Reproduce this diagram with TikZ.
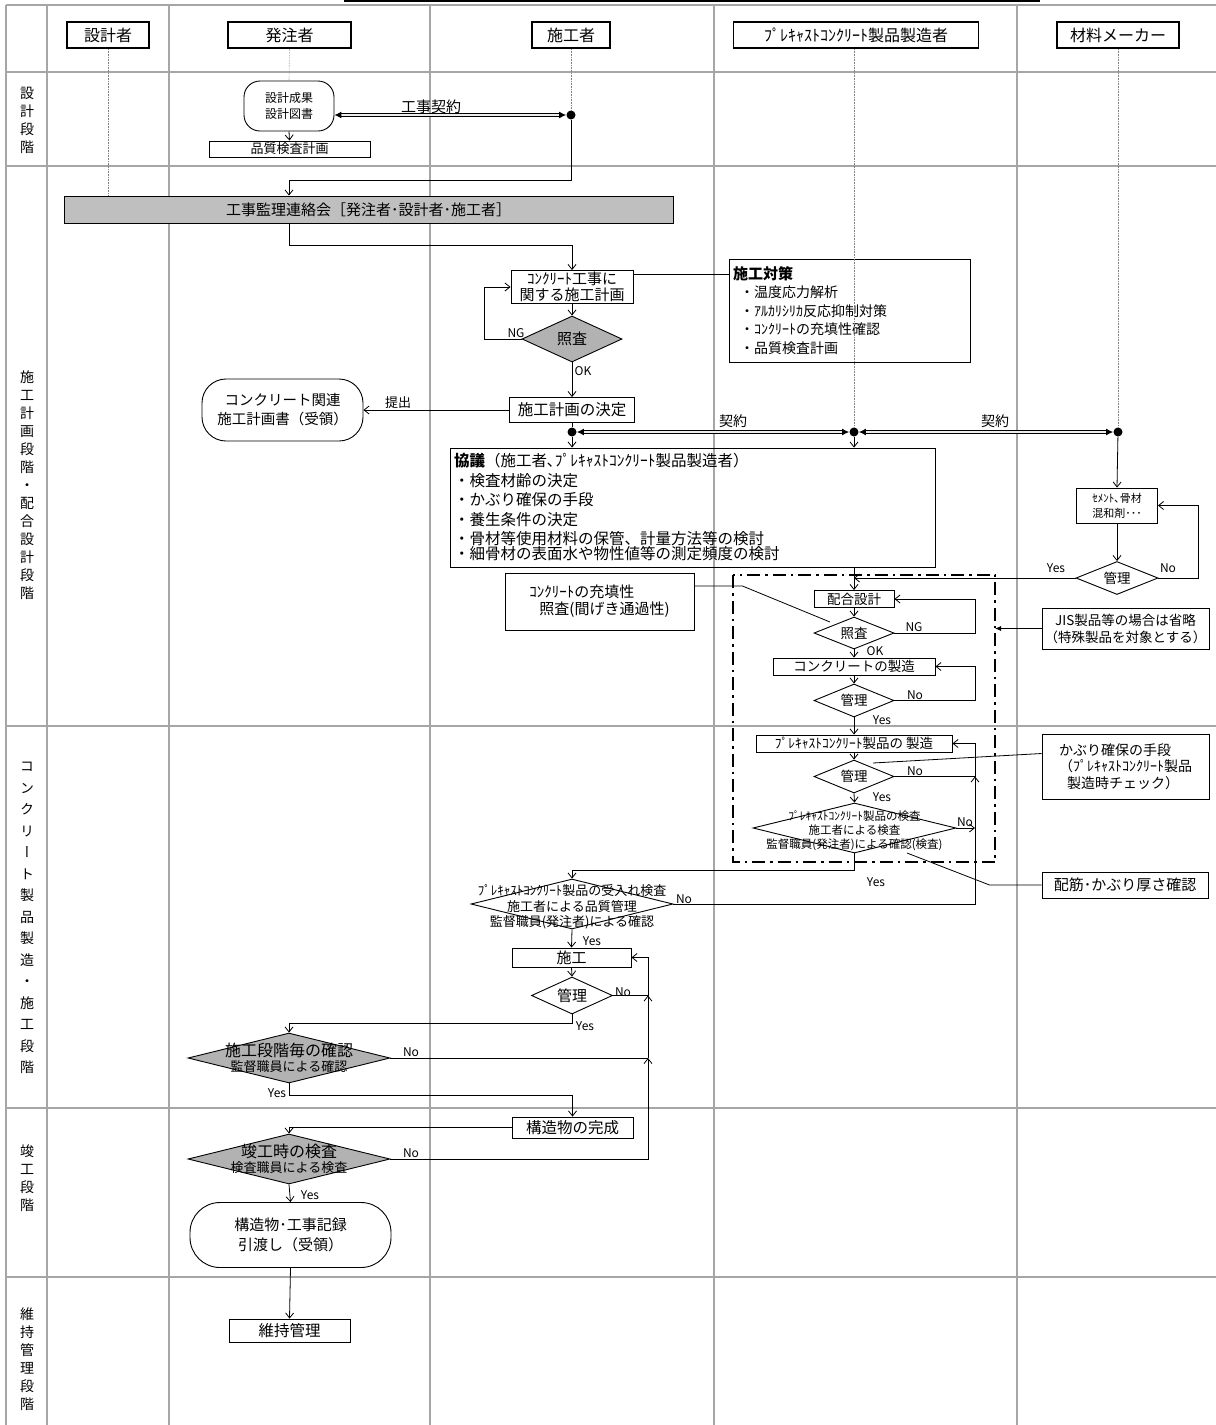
\documentclass[tikz,border=0pt]{standalone}
\usepackage{fontspec}
\setmainfont{Noto Sans CJK JP}
\newfontfamily\vjp{Noto Sans CJK JP}[RawFeature=+vert]
\usetikzlibrary{shapes.geometric,arrows.meta}
\newcommand\fsz[2]{\fontsize{#1pt}{#2pt}\selectfont}

\begin{document}
\begin{tikzpicture}[x=1pt, y=-1pt, line width=0.8pt,
		>={Straight Barb[length=5pt,width=8pt]},
		grid/.style={gray!70, line width=2pt},
		life/.style={densely dotted, gray, line width=0.6pt},
		head/.style={draw, line width=1.8pt, minimum height=26pt, inner sep=0pt, font=\fsz{16}{18}},
		box/.style={draw, line width=0.9pt, inner sep=0pt, align=center, font=\fsz{14}{16}},
		term/.style={box, rounded corners=#1},
		chk/.style={diamond, draw, line width=0.9pt, inner sep=0pt},
		gchk/.style={chk, fill=gray!60},
		dtxt/.style={inner sep=0pt, align=center, font=\fsz{13.5}{16}},
		lbl/.style={inner sep=0pt, font=\fsz{12}{14}},
		phase/.style={inner sep=0pt, align=center, font=\vjp\fsz{14}{18}},
		dbl/.style={double=gray!15, double distance=2.6pt, line width=1.1pt, arrows={Latex[length=7pt,width=7pt]-Latex[length=7pt,width=7pt]}},
		dotn/.style={circle, fill, inner sep=0pt, minimum size=9pt},
		dashfr/.style={line width=2pt, dash pattern=on 13pt off 5pt on 2.5pt off 5pt}]
	\useasboundingbox (0,0) rectangle (1216,1425);
	\foreach \x in {6,47,169,430,714,1017} \draw[grid] (\x,5) -- (\x,1425);
	\foreach \y in {5,72,166,726,1108,1277} \draw[grid] (6,\y) -- (1216,\y);
	\draw[line width=1.5pt] (344,1) -- (1040,1);

	\node[phase] (p1) at (27,120) {設\\計\\段\\階};
	\node[phase] (p2) at (27,485) {施\\工\\計\\画\\段\\階\\・\\配\\合\\設\\計\\段\\階};
	\node[phase, font=\vjp\fsz{14}{21.5}] (p3) at (27,918) {コ\\ン\\ク\\リ\\ー\\ト\\製\\品\\製\\造\\・\\施\\工\\段\\階};
	\node[phase] (p4) at (27,1178) {竣\\工\\段\\階};
	\node[phase] (p5) at (27,1359) {維\\持\\管\\理\\段\\階};

	\node[head, minimum width=82pt] (hDes) at (108,35) {設計者};
	\node[head, minimum width=123pt] (hOwn) at (289.5,35) {発注者};
	\node[head, minimum width=78pt] (hCon) at (571,35) {施工者};
	\node[head, minimum width=245pt] (hPre) at (856,35) {ﾌﾟﾚｷｬｽﾄｺﾝｸﾘｰﾄ製品製造者};
	\node[head, minimum width=122pt] (hMat) at (1118,35) {材料メーカー};

	\node[term=16pt, minimum width=90pt, minimum height=50pt, font=\fsz{12}{16}] (des) at (289,106) {設計成果\\設計図書};
	\node[box, minimum width=161pt, minimum height=16pt, font=\fsz{13}{15}] (qual) at (289.5,149) {品質検査計画};
	\node[dotn] (dot1) at (571,115) {};
	\coordinate (jn1) at (289,180);
	\node[box, fill=gray!50, minimum width=609pt, minimum height=27pt, font=\fsz{15}{17}] (meet) at (368.5,209.5) {工事監理連絡会［発注者･設計者･施工者］};

	\node[box, minimum width=122pt, minimum height=33pt, font=\fsz{15}{16.5}] (plan) at (572,287) {ｺﾝｸﾘｰﾄ工事に\\関する施工計画};
	\node[box, minimum width=241pt, minimum height=103pt, text width=233pt, align=left, font=\fsz{14}{18.5}] (meas) at (849.5,310.5) {{\bfseries\fsz{15}{18.5}施工対策}\\\hspace*{7pt}・温度応力解析\\\hspace*{7pt}・ｱﾙｶﾘｼﾘｶ反応抑制対策\\\hspace*{7pt}・ｺﾝｸﾘｰﾄの充填性確認\\\hspace*{7pt}・品質検査計画};
	\node[gchk, minimum width=100pt, minimum height=46pt] (chk0) at (572,339) {};
	\node[dtxt, font=\fsz{15}{17}] (chk0t) at (chk0) {照査};
	\node[box, minimum width=125pt, minimum height=25pt, font=\fsz{15.5}{17}] (decide) at (572,410) {施工計画の決定};
	\node[term=24pt, minimum width=161pt, minimum height=62pt, font=\fsz{14.5}{19}] (sub) at (282.5,410) {コンクリート関連\\施工計画書（受領）};

	\node[dotn] (dot2) at (572,432) {};
	\node[dotn] (dot3) at (854,432) {};
	\node[dotn] (dot4) at (1118,432) {};
	\node[box, minimum width=485pt, minimum height=119pt, text width=477pt, align=left, font=\fsz{15.5}{19.5}] (kyogi) at (692.5,507.5) {{\bfseries 協議}（施工者､ﾌﾟﾚｷｬｽﾄｺﾝｸﾘｰﾄ製品製造者）\\・検査材齢の決定\\・かぶり確保の手段\\・養生条件の決定\\・骨材等使用材料の保管、計量方法等の検討\\[-4.5pt]・細骨材の表面水や物性値等の測定頻度の検討};
	\node[box, minimum width=81pt, minimum height=35pt, font=\fsz{11}{15}] (matBox) at (1117,505.5) {ｾﾒﾝﾄ､骨材\\混和剤･･･};
	\node[chk, minimum width=82pt, minimum height=33pt] (ctlM) at (1117,578) {};
	\node[dtxt] (ctlMt) at (ctlM) {管理};

	\node[box, minimum width=189pt, minimum height=57pt, align=left, font=\fsz{15}{17}] (juten) at (599.5,601.5) {ｺﾝｸﾘｰﾄの充填性\\\hspace*{10pt}照査(間げき通過性)};
	\coordinate (jtEnd) at (830,622);
	\coordinate (frNW) at (733,575);
	\coordinate (frSE) at (995,862);
	\coordinate (riseA) at (975,0);
	\node[box, minimum width=80pt, minimum height=17pt, font=\fsz{13.5}{16}] (mix) at (854,599) {配合設計};
	\node[chk, minimum width=80pt, minimum height=32pt] (chk1) at (854,633) {};
	\node[dtxt] (chk1t) at (chk1) {照査};
	\node[box, minimum width=162pt, minimum height=17pt, font=\fsz{13.5}{16}] (conc) at (854,666.5) {コンクリートの製造};
	\node[chk, minimum width=80pt, minimum height=33pt] (ctl1) at (854,700.5) {};
	\node[dtxt] (ctl1t) at (ctl1) {管理};
	\node[box, minimum width=196pt, minimum height=17pt, font=\fsz{13.5}{16}] (pcm) at (854,743.5) {ﾌﾟﾚｷｬｽﾄｺﾝｸﾘｰﾄ製品の 製造};
	\node[chk, minimum width=80pt, minimum height=33pt] (ctl2) at (854,776.5) {};
	\node[dtxt] (ctl2t) at (ctl2) {管理};
	\node[chk, minimum width=203pt, minimum height=50pt] (insp) at (854.5,828) {};
	\node[dtxt, font=\fsz{11.5}{14}] (inspt) at (854.5,831) {ﾌﾟﾚｷｬｽﾄｺﾝｸﾘｰﾄ製品の検査\\施工者による検査\\監督職員(発注者)による確認(検査)};

	\node[box, minimum width=167pt, minimum height=41pt, font=\fsz{13.5}{17}] (jis) at (1125.5,628.5) {JIS製品等の場合は省略\\（特殊製品を対象とする）};
	\node[box, minimum width=167pt, minimum height=65pt, align=left, font=\fsz{14}{16.5}] (cover) at (1125.5,766.5) {かぶり確保の手段\\（ﾌﾟﾚｷｬｽﾄｺﾝｸﾘｰﾄ製品\\\hspace*{8pt}製造時チェック）};
	\coordinate (cvEnd) at (873,763);
	\node[box, minimum width=166pt, minimum height=26pt, font=\fsz{15}{17}] (rebar) at (1125,885) {配筋･かぶり厚さ確認};
	\coordinate (rbEnd) at (907,853);

	\node[chk, minimum width=202pt, minimum height=50pt] (accept) at (572,904) {};
	\node[dtxt, font=\fsz{13}{15.5}] (acceptt) at (572,907) {ﾌﾟﾚｷｬｽﾄｺﾝｸﾘｰﾄ製品の受入れ検査\\施工者による品質管理\\監督職員(発注者)による確認};
	\node[box, minimum width=119pt, minimum height=19pt, font=\fsz{15}{17}] (sekou) at (571.5,957.5) {施工};
	\node[chk, minimum width=81pt, minimum height=37pt] (ctl3) at (572,995.5) {};
	\node[dtxt, font=\fsz{15}{17}] (ctl3t) at (ctl3) {管理};
	\coordinate (riseB) at (648,0);
	\node[gchk, minimum width=202pt, minimum height=50pt] (stage) at (289,1058) {};
	\node[dtxt, font=\fsz{13}{15}] (staget) at (stage) {{\fsz{16}{16}施工段階毎の確認}\\監督職員による確認};
	\node[box, minimum width=121pt, minimum height=21pt, font=\fsz{15.5}{17}] (done) at (572.5,1127.5) {構造物の完成};
	\node[gchk, minimum width=202pt, minimum height=50pt] (kan) at (289,1159) {};
	\node[dtxt, font=\fsz{13}{15}] (kant) at (kan) {{\fsz{16}{16}竣工時の検査}\\検査職員による検査};
	\node[term=30pt, minimum width=201pt, minimum height=65pt, font=\fsz{15}{20}] (hand) at (290.5,1235) {構造物･工事記録\\引渡し（受領）};
	\node[box, minimum width=121pt, minimum height=23pt, font=\fsz{15.5}{17}] (maint) at (289.5,1330.5) {維持管理};

	\draw[life] (hDes.south) -- (hDes |- meet.north);
	\draw[life] (hOwn.south) -- (des.north);
	\draw[life] (hCon.south) -- (dot1);
	\draw[life] (hPre.south -| dot3) -- (dot3);
	\draw[life] (hMat.south) -- (dot4);

	\draw[dbl] ([yshift=-9pt]des.east) -- (dot1);
	\draw[->] (des.south) -- (qual.north);
	\draw[->] (dot1) |- (jn1) -- (jn1 |- meet.north);
	\draw[->] (meet.south -| jn1) -- ++(0,22) -| (plan.north);
	\draw ([yshift=12.5pt]plan.east) -- ([yshift=12.5pt]plan.east -| meas.west);
	\draw[->] (plan.south) -- (chk0.north);
	\draw[->] (chk0.west) -- ++(-37,0) |- (plan.west);
	\draw[->] (chk0.south) -- (decide.north);
	\draw[->] (decide.west) -- (decide.west -| sub.east);
	\draw (decide.south) -- (dot2);
	\draw[->] (dot2) -- (dot2 |- kyogi.north);
	\draw[dbl] (dot2) -- (dot3);
	\draw[dbl] (dot3) -- (dot4);
	\draw[->] (dot3) -- (dot3 |- kyogi.north);
	\draw[->] (dot4) -- (matBox.north);
	\draw[->] (matBox.south) -- (ctlM.north);
	\draw[->] (ctlM.east) -- ++(40,0) |- (matBox.east);
	\draw[->] (ctlM.west) -- (ctlM.west -| mix.north);

	\draw[->] (mix |- kyogi.south) -- (mix.north);
	\draw ([yshift=15.5pt]juten.east) -- ++(48,0) -- (jtEnd);
	\draw[dashfr] (frNW) rectangle (frSE);
	\draw[-{Latex[length=6pt,width=5pt]}] (jis.west) -- (jis.west -| frSE);
	\draw[->] (mix.south) -- (chk1.north);
	\draw[->] (chk1.east) -- ++(81,0) |- (mix.east);
	\draw[->] (chk1.south) -- (conc.north);
	\draw[->] (conc.south) -- (ctl1.north);
	\draw[->] (ctl1.east) -- ++(81,0) |- (conc.east);
	\draw[->] (ctl1.south) -- (pcm.north);
	\draw[->] (pcm.south) -- (ctl2.north);
	\draw[->] (ctl2.south) -- (insp.north);
	\draw (ctl2.east) -- (ctl2.east -| riseA);
	\draw[->] (insp.east) -- (insp.east -| riseA);
	\draw[->] (accept.east) -- (accept.east -| riseA) -- (ctl2.east -| riseA);
	\draw[->] (ctl2.east -| riseA) |- (pcm.east);
	\draw ([yshift=13pt]cover.west) -- (cvEnd);
	\draw (rebar.west) -- ++(-52,0) -- (rbEnd);
	\draw[->] (insp.south) -- ++(0,17) -| (accept.north);

	\draw[->] (accept.south) -- (sekou.north);
	\draw[->] (sekou.south) -- (ctl3.north);
	\draw (ctl3.east) -- (ctl3.east -| riseB);
	\draw[->] (ctl3.east -| riseB) |- (sekou.east);
	\draw[->] (ctl3.south) -- ++(0,9) -| (stage.north);
	\draw (stage.east) -- (stage.east -| riseB);
	\draw[->] (stage.east -| riseB) -- (ctl3.east -| riseB);
	\draw[->] (stage.south) -- ++(0,12) -| (done.north);
	\draw[->] (done.west) -| (kan.north);
	\draw[->] (kan.east) -- (kan.east -| riseB) -- (stage.east -| riseB);
	\draw[->] (kan.south) -- (hand.north);
	\draw[->] (hand.south) -- (maint.north);

	\node[lbl, font=\fsz{15}{17}] (tKoji) at (431,107) {工事契約};
	\node[lbl] (tNG0) at (516,333) {NG};
	\node[lbl] (tOK0) at (583,371) {OK};
	\node[lbl, font=\fsz{13}{15}] (tSub) at (398,403) {提出};
	\node[lbl, font=\fsz{14}{16}] (tK1) at (733,421) {契約};
	\node[lbl, font=\fsz{14}{16}] (tK2) at (995,421) {契約};
	\node[lbl] (tYesM) at (1056,568) {Yes};
	\node[lbl] (tNoM) at (1168,568) {No};
	\node[lbl] (tNG1) at (914,627) {NG};
	\node[lbl] (tOK1) at (875,651) {OK};
	\node[lbl] (tNo1) at (915,695) {No};
	\node[lbl] (tYes1) at (882,720) {Yes};
	\node[lbl] (tNo2) at (915,771) {No};
	\node[lbl] (tYes2) at (882,797) {Yes};
	\node[lbl] (tNo3) at (965,822) {No};
	\node[lbl] (tYes3) at (876,882) {Yes};
	\node[lbl] (tNo4) at (684,899) {No};
	\node[lbl] (tYes4) at (592,941) {Yes};
	\node[lbl] (tNo5) at (623,992) {No};
	\node[lbl] (tYes5) at (585,1026) {Yes};
	\node[lbl] (tNo6) at (411,1052) {No};
	\node[lbl] (tYes6) at (277,1093) {Yes};
	\node[lbl] (tNo7) at (411,1153) {No};
	\node[lbl] (tYes7) at (310,1195) {Yes};
\end{tikzpicture}
\end{document}
